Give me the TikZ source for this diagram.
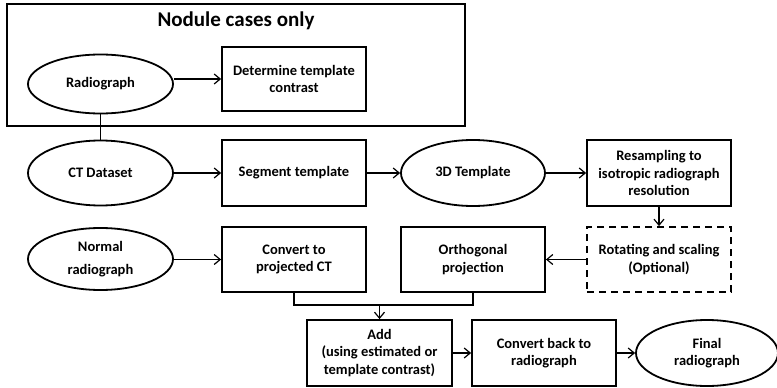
\documentclass[tikz,border=0pt]{standalone}
\usepackage{fontspec}
\setmainfont{Carlito}
\usetikzlibrary{shapes.geometric,arrows.meta}
\begin{document}
\begin{tikzpicture}[
  x=1pt, y=-1pt,
  txt/.style={font=\fontsize{14.5}{17.7}\selectfont\bfseries, align=center},
  oval/.style={ellipse, draw, txt, line width=1.8pt, minimum width=145pt, minimum height=62pt, inner sep=0pt},
  proc/.style={rectangle, draw, txt, line width=1.8pt, minimum width=144pt, minimum height=65pt, inner sep=2pt},
  optproc/.style={proc, dash pattern=on 7pt off 5pt},
  frame/.style={rectangle, draw, line width=2.4pt, minimum width=458pt, minimum height=122pt},
  arr/.style={-{Straight Barb[length=6pt,width=10pt]}, line width=1.2pt},
  link/.style={line width=1.2pt}
]
  \useasboundingbox (0,0) rectangle (777,388);

  % nodule-only part
  \node[frame] (nodule) at (236,65) {};
  \node[font=\fontsize{21}{25}\selectfont\bfseries] (title) at (236,21) {Nodule cases only};
  \node[oval, minimum height=59pt] (radio) at (100.5,84) {Radiograph};
  \node[proc, minimum height=64pt] (contrast) at (294,79) {Determine template\\contrast};

  % template row
  \node[oval, minimum height=65pt] (ct) at (100.5,173) {CT Dataset};
  \node[proc, minimum height=66pt] (segment) at (294,173) {Segment template};
  \node[oval, minimum width=144pt, minimum height=66pt] (tmpl) at (473,173) {3D Template};
  \node[proc, minimum height=66pt] (resample) at (659,173) {Resampling to\\isotropic radiograph\\resolution};

  % projection row
  \node[oval] (normal) at (100.5,259) {Normal\\[5pt]radiograph};
  \node[proc] (convert) at (294,259.5) {Convert to\\projected CT};
  \node[proc] (ortho) at (473,259.5) {Orthogonal\\projection};
  \node[optproc] (rotate) at (659,259.5) {Rotating and scaling\\(Optional)};

  % output row
  \node[proc, minimum width=145pt, minimum height=66pt] (add) at (379.5,353) {Add\\(using estimated or\\template contrast)};
  \node[proc, minimum height=66pt] (back) at (544,353) {Convert back to\\radiograph};
  \node[oval, minimum width=142pt, minimum height=66pt] (final) at (707,353) {Final\\radiograph};

  \coordinate (join) at (379.5,305);

  \draw[arr] (contrast.west -| radio.east) -- (contrast.west);
  \draw[link] (radio.south) -- (ct.north);
  \draw[arr] (ct) -- (segment);
  \draw[arr] (segment) -- (tmpl);
  \draw[arr] (tmpl) -- (resample);
  \draw[arr] (resample) -- (rotate);
  \draw[arr] (rotate.west |- ortho.east) -- (ortho.east);
  \draw[arr] (normal.east |- convert.west) -- (convert.west);
  \draw[link] (convert.south) |- (ortho.south |- join) -- (ortho.south);
  \draw[arr] (join) -- (add.north);
  \draw[arr] (add) -- (back);
  \draw[arr] (back) -- (final);
\end{tikzpicture}
\end{document}
